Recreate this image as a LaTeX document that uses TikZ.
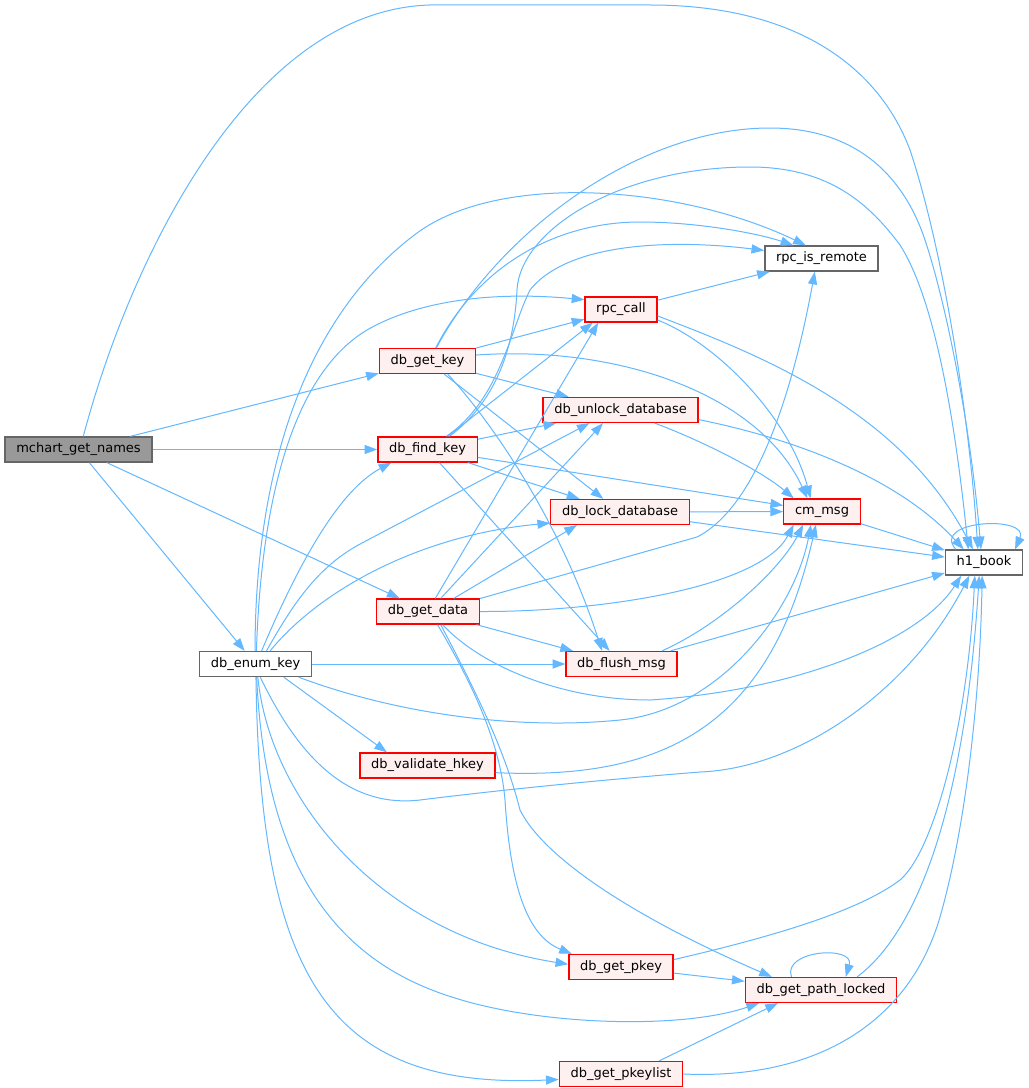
\documentclass[tikz,border=0pt]{standalone}
\usepackage{fontspec}
\setmainfont{DejaVu Sans}
\usetikzlibrary{arrows.meta}
\definecolor{callblue}{HTML}{63B8FF}
\definecolor{boxgray}{HTML}{666666}
\definecolor{rootfill}{HTML}{999999}
\definecolor{cutfill}{HTML}{FFF0F0}

\begin{document}
\begin{tikzpicture}
    [ x = .75pt, y = -.75pt
    , fn/.style =
      { draw = boxgray, fill = white, line width = 1pt, rectangle
      , minimum height = 18.75pt, inner xsep = 8.4pt, inner ysep = 0pt
      , text height = 7.4pt, text depth = 2.2pt
      , font = \fontsize{9.75}{11}\selectfont }
    , root/.style =
      { fn, fill = rootfill }
    , cut/.style =
      { fn, draw = red, fill = cutfill }
    , calls/.style =
      { callblue, line width = .75pt, -{Triangle[length=9.5pt,width=6.8pt]} }
    ]
    \path [use as bounding box, fill = white] (0,0) rectangle (1028,1088);

    \node [root] (mchart) at (78.5,449.5) {mchart\_get\_names};
    \node [fn] (enumkey) at (255.5,664) {db\_enum\_key};
    \node [cut] (getkey) at (427.5,361) {db\_get\_key};
    \node [cut] (findkey) at (427.5,449.5) {db\_find\_key};
    \node [cut] (getdata) at (428,611.5) {db\_get\_data};
    \node [cut] (validate) at (427.5,765.5) {db\_validate\_hkey};
    \node [cut] (rpccall) at (621,309.5) {rpc\_call};
    \node [cut] (unlock) at (620.5,410) {db\_unlock\_database};
    \node [cut] (lock) at (620,512) {db\_lock\_database};
    \node [cut] (flush) at (621.5,664) {db\_flush\_msg};
    \node [cut] (pkey) at (621,967) {db\_get\_pkey};
    \node [cut] (pkeylist) at (621,1074) {db\_get\_pkeylist};
    \node [fn] (remote) at (821.5,258.5) {rpc\_is\_remote};
    \node [cut] (cmmsg) at (822,511.5) {cm\_msg};
    \node [cut] (pathlocked) at (821,990) {db\_get\_path\_locked};
    \node [fn] (h1book) at (984,562.5) {h1\_book};

    \draw [calls] (mchart) -- (getkey);
    \draw [calls] (mchart) -- (findkey);
    \draw [calls] (mchart) -- (getdata);
    \draw [calls] (mchart) -- (enumkey);
    \draw [calls] (mchart.70) .. controls (130,260) and (250,10) .. (430,5)
      -- (650,5) .. controls (800,5) and (880,70) .. (910,150)
      .. controls (940,240) and (968,400) .. (h1book.115);

    \draw [calls] (getkey) -- (rpccall);
    \draw [calls] (getkey) -- (unlock);
    \draw [calls] (getkey) -- (lock);
    \draw [calls] (getkey.58) .. controls (480,262) and (560,222) .. (640,222)
      .. controls (700,222) and (760,234) .. (remote.155);
    \draw [calls] (getkey.56) .. controls (500,230) and (640,128) .. (770,128)
      .. controls (860,128) and (905,180) .. (925,240)
      .. controls (945,300) and (970,420) .. (h1book.103);
    \draw [calls] (getkey.7) .. controls (620,345) and (760,395) .. (cmmsg.138);
    \draw [calls] (getkey.-33) .. controls (490,420) and (560,520) .. (flush.146);

    \draw [calls] (findkey.33) -- (rpccall.-155);
    \draw [calls] (findkey) -- (unlock);
    \draw [calls] (findkey) -- (cmmsg);
    \draw [calls] (findkey) -- (lock);
    \draw [calls] (findkey) -- (flush);
    \draw [calls] (findkey.35) .. controls (500,400) and (510,330) .. (530,290)
      .. controls (570,240) and (680,240) .. (remote.172);
    \draw [calls] (findkey.31) .. controls (505,395) and (515,330) .. (517,290)
      .. controls (520,230) and (620,167) .. (750,167)
      .. controls (830,167) and (870,205) .. (900,245)
      .. controls (935,300) and (955,420) .. (h1book.140);

    \draw [calls] (getdata.61) -- (rpccall.-150);
    \draw [calls] (getdata.14) -- (697,537)
      .. controls (760,505) and (795,380) .. (remote.-117);
    \draw [calls] (getdata.46) -- (unlock.-143);
    \draw [calls] (getdata.27) -- (lock.-163);
    \draw [calls] (getdata.east) .. controls (600,612) and (760,588) .. (cmmsg.-155);
    \draw [calls] (getdata) -- (flush);
    \draw [calls] (getdata.-42) .. controls (480,665) and (560,700) .. (650,700)
      .. controls (800,690) and (920,640) .. (h1book.-150);
    \draw [calls] (getdata.-54) .. controls (470,680) and (500,740) .. (505,800)
      .. controls (510,880) and (525,935) .. (pkey.165);
    \draw [calls] (getdata.-46) .. controls (475,690) and (505,750) .. (520,810)
      .. controls (545,860) and (640,920) .. (pathlocked.165);

    \draw [calls] (enumkey) -- (flush);
    \draw [calls] (enumkey.-25) -- (validate.162);
    \draw [calls] (enumkey.65) .. controls (300,560) and (340,490) .. (findkey.-160);
    \draw [calls] (enumkey.50) .. controls (295,600) and (320,565) .. (362,543)
      -- (unlock.-157);
    \draw [calls] (enumkey.42) .. controls (320,590) and (420,535) .. (lock.-171);
    \draw [calls] (enumkey.92) .. controls (255,480) and (300,320) .. (417,233)
      .. controls (500,172) and (680,185) .. (remote.140);
    \draw [calls] (enumkey.86) .. controls (262,480) and (300,370) .. (367,330)
      .. controls (410,305) and (480,290) .. (rpccall.165);
    \draw [calls] (enumkey.-17) .. controls (400,715) and (520,730) .. (620,720)
      .. controls (720,710) and (795,610) .. (cmmsg.-130);
    \draw [calls] (enumkey.-70) .. controls (300,760) and (350,808) .. (420,800)
      .. controls (500,790) and (600,780) .. (700,772)
      .. controls (800,768) and (910,690) .. (h1book.-138);
    \draw [calls] (enumkey.-80) .. controls (270,800) and (380,935) .. (pkey.177);
    \draw [calls] (enumkey.-85) .. controls (265,860) and (330,960) .. (455,998)
      .. controls (540,1025) and (680,1030) .. (pathlocked.-168);
    \draw [calls] (enumkey.-88) .. controls (260,980) and (330,1090) .. (pkeylist.-175);

    \draw [calls] (rpccall) -- (remote);
    \draw [calls] (rpccall.-16) .. controls (720,345) and (790,420) .. (cmmsg.131);
    \draw [calls] (rpccall.-10) .. controls (760,355) and (900,410) .. (h1book.130);

    \draw [calls] (unlock.-21) .. controls (700,440) and (760,470) .. (cmmsg.155);
    \draw [calls] (unlock.-7) .. controls (800,440) and (900,480) .. (h1book.147);

    \draw [calls] (lock) -- (cmmsg);
    \draw [calls] (lock) -- (h1book);
    \draw [calls] (cmmsg) -- (h1book);

    \draw [calls] (flush.18) .. controls (720,625) and (780,570) .. (cmmsg.-145);
    \draw [calls] (flush.15) -- (h1book.-165);

    \draw [calls] (validate.-6) .. controls (660,780) and (770,730) .. (cmmsg.-115);

    \draw [calls] (pkey) -- (pathlocked);
    \draw [calls] (pkey.8) .. controls (780,935) and (860,910) .. (900,880)
      .. controls (935,850) and (968,720) .. (h1book.-125);

    \draw [calls] (pathlocked.156) .. controls (782,950) and (855,945) .. (pathlocked.28);
    \draw [calls] (pathlocked.20) .. controls (920,930) and (965,800) .. (h1book.-110);

    \draw [calls] (pkeylist.19) -- (pathlocked.-163);
    \draw [calls] (pkeylist.east) .. controls (820,1080) and (910,1020) .. (940,917)
      .. controls (965,830) and (980,700) .. (h1book.-98);

    \draw [calls] (h1book.155) .. controls (930,520) and (1030,515) .. (h1book.23);
\end{tikzpicture}
\end{document}
